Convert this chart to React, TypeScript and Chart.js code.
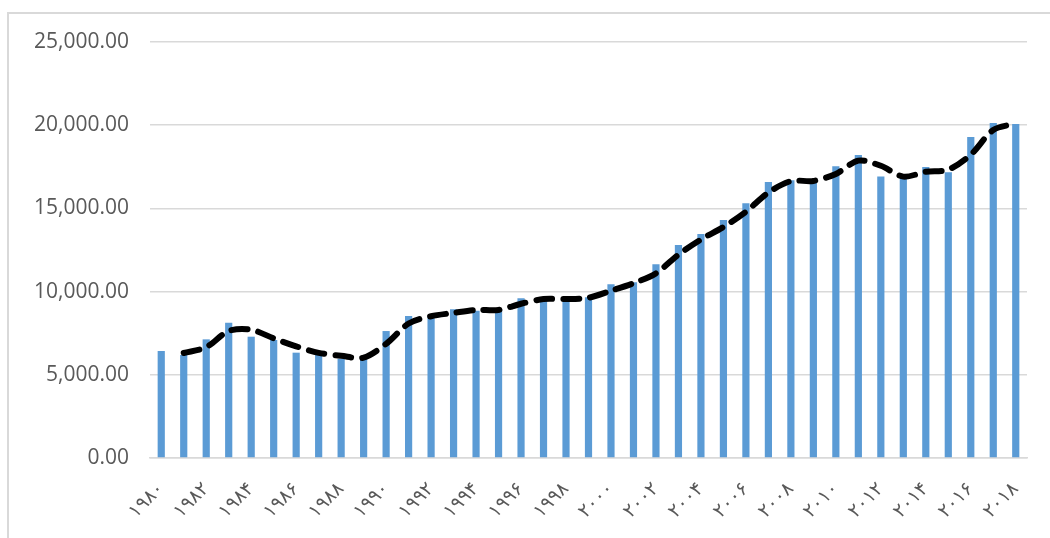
import React, { useEffect, useRef } from "react";
import { Chart, registerables } from "chart.js";

Chart.register(...registerables);

const years = [
  "۱۹۸۰", "۱۹۸۱", "۱۹۸۲", "۱۹۸۳", "۱۹۸۴", "۱۹۸۵", "۱۹۸۶", "۱۹۸۷", "۱۹۸۸", "۱۹۸۹",
  "۱۹۹۰", "۱۹۹۱", "۱۹۹۲", "۱۹۹۳", "۱۹۹۴", "۱۹۹۵", "۱۹۹۶", "۱۹۹۷", "۱۹۹۸", "۱۹۹۹",
  "۲۰۰۰", "۲۰۰۱", "۲۰۰۲", "۲۰۰۳", "۲۰۰۴", "۲۰۰۵", "۲۰۰۶", "۲۰۰۷", "۲۰۰۸", "۲۰۰۹",
  "۲۰۱۰", "۲۰۱۱", "۲۰۱۲", "۲۰۱۳", "۲۰۱۴", "۲۰۱۵", "۲۰۱۶", "۲۰۱۷", "۲۰۱۸",
];

const barValues = [
  6430, 6190, 7130, 8130, 7290, 7090, 6330, 6300, 5970, 6090,
  7630, 8530, 8500, 8940, 8850, 8940, 9600, 9500, 9600, 9660,
  10440, 10560, 11640, 12800, 13460, 14300, 15310, 16590, 16690, 16600,
  17530, 18210, 16910, 16900, 17490, 17170, 19290, 20130, 20070,
];

// dashed trend line (2-period moving average)
const trendValues = [
  null, 6310, 6660, 7630, 7710, 7190, 6710, 6320, 6140, 6030,
  6860, 8080, 8520, 8720, 8900, 8900, 9270, 9550, 9550, 9630,
  10050, 10500, 11100, 12220, 13130, 13880, 14800, 15950, 16640, 16650,
  17070, 17870, 17560, 16910, 17200, 17330, 18230, 19710, 20100,
];

const yTicks = [0, 5000, 10000, 15000, 20000, 25000];

export default function App() {
  const ref = useRef<HTMLCanvasElement | null>(null);

  useEffect(() => {
    if (!ref.current) return;
    const chart = new Chart(ref.current, {
      type: "bar",
      data: {
        labels: years,
        datasets: [
          {
            type: "line",
            data: trendValues,
            borderColor: "#000000",
            borderWidth: 6,
            borderDash: [16, 11],
            borderCapStyle: "round",
            pointRadius: 0,
            tension: 0.3,
            fill: false,
            order: 0,
          } as any,
          {
            type: "bar",
            data: barValues,
            backgroundColor: "#5B9BD5",
            borderWidth: 0,
            barPercentage: 1,
            categoryPercentage: 0.32,
            order: 1,
          },
        ],
      },
      options: {
        responsive: false,
        animation: false,
        devicePixelRatio: 1,
        layout: { padding: { top: 28, right: 23, bottom: 0, left: 0 } },
        plugins: {
          legend: { display: false },
          tooltip: { enabled: false },
          title: { display: false },
        },
        scales: {
          x: {
            offset: true,
            grid: { display: false, drawTicks: false },
            border: { display: true, color: "#d9d9d9", width: 1.5 },
            ticks: {
              autoSkip: false,
              minRotation: 45,
              maxRotation: 45,
              padding: 20,
              color: "#595959",
              font: { family: "DejaVu Sans", size: 19 },
              callback: (_v: any, i: number) => (i % 2 === 0 ? years[i] : ""),
            },
            afterFit: (s: any) => {
              s.height = 80;
              s.paddingLeft = 0;
              s.paddingRight = 0;
            },
          },
          y: {
            min: 0,
            max: 25000,
            afterBuildTicks: (s: any) => {
              s.ticks = yTicks.map((v) => ({ value: v }));
            },
            grid: { color: "#d9d9d9", lineWidth: 1.5, drawTicks: false },
            border: { display: false },
            ticks: {
              padding: 21,
              color: "#595959",
              font: { family: "Open Sans", size: 21 },
              callback: (v: any) =>
                Number(v).toLocaleString("en-US", {
                  minimumFractionDigits: 2,
                  maximumFractionDigits: 2,
                }),
            },
            afterFit: (s: any) => {
              s.width = 141;
              s.paddingTop = 0;
              s.paddingBottom = 0;
            },
          },
        },
      },
    });
    return () => chart.destroy();
  }, []);

  return (
    <div
      style={{
        position: "absolute",
        left: 7,
        top: 12,
        width: 1043,
        height: 526,
        borderLeft: "2px solid #d9d9d9",
        borderTop: "2px solid #d9d9d9",
        boxSizing: "border-box",
        background: "#fff",
      }}
    >
      <canvas ref={ref} width={1041} height={524} style={{ display: "block" }} />
    </div>
  );
}
